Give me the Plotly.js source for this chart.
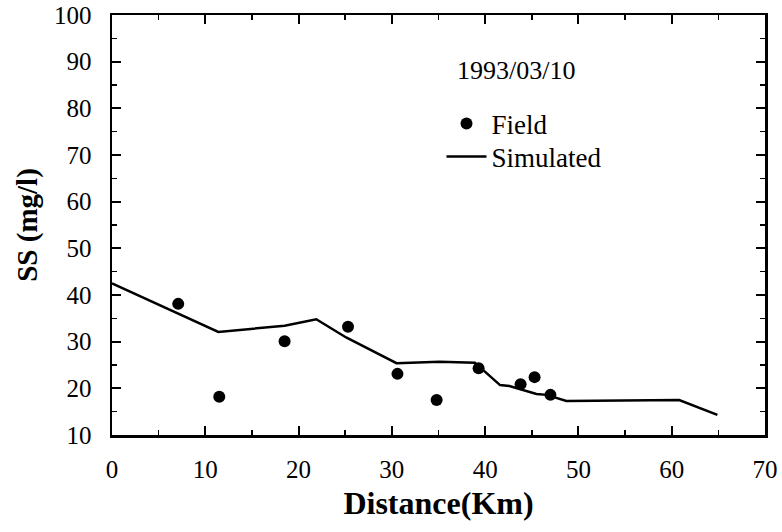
<!DOCTYPE html>
<html>
<head>
<meta charset="utf-8">
<script src="https://cdn.plot.ly/plotly-3.0.1.min.js"></script>
<style>html,body{margin:0;padding:0;background:#fff;}#chart{width:782px;height:532px;}</style>
</head>
<body>
<div id="chart"></div>
<script>
// Field observations
const fieldDistance = [7.1, 11.5, 18.5, 25.3, 30.6, 34.8, 39.3, 43.8, 45.3, 47.0];
const fieldSS       = [38.1, 18.2, 30.1, 33.2, 23.1, 17.5, 24.3, 20.9, 22.4, 18.6];
// Simulated profile
const simDistance = [0, 11.4, 18.5, 21.9, 25.1, 30.5, 35.1, 38.9, 39.4, 41.6, 42.6, 45.5, 46.6, 48.7, 60.8, 64.9];
const simSS       = [42.5, 32.1, 33.4, 34.8, 30.9, 25.4, 25.7, 25.5, 24.6, 20.7, 20.5, 18.8, 18.6, 17.3, 17.5, 14.3];
const xTicks = [0, 10, 20, 30, 40, 50, 60, 70];
const yTicks = [10, 20, 30, 40, 50, 60, 70, 80, 90, 100];
const dateLabel = "1993/03/10";

const serif = "Liberation Serif, Times New Roman, serif";

const traces = [
  {
    x: fieldDistance, y: fieldSS, mode: "markers", name: "Field",
    legend: "legend",
    marker: {color: "#000", size: 12, symbol: "circle"}
  },
  {
    x: simDistance, y: simSS, mode: "lines", name: "Simulated",
    legend: "legend2",
    line: {color: "#000", width: 2.5}
  }
];

const axisCommon = {
  showline: true, linecolor: "#000", linewidth: 2.5, mirror: "allticks",
  ticks: "inside", ticklen: 9, tickwidth: 2, tickcolor: "#000",
  showgrid: false, zeroline: false,
  tickfont: {family: serif, size: 25, color: "#000"},
  minor: {ticks: "inside", ticklen: 5, tickwidth: 1.5, tickcolor: "#000", showgrid: false}
};

const legendCommon = {
  xanchor: "left", yanchor: "middle",
  bgcolor: "rgba(0,0,0,0)", borderwidth: 0, itemwidth: 40,
  font: {family: serif, size: 27, color: "#000"}
};

const layout = {
  width: 782, height: 532,
  margin: {l: 112, r: 17, t: 15, b: 97},
  paper_bgcolor: "#fff", plot_bgcolor: "#fff",
  showlegend: true,
  legend: Object.assign({}, legendCommon, {x: 0.5046, y: 0.7405}),
  legend2: Object.assign({}, legendCommon, {x: 0.5046, y: 0.662}),
  xaxis: Object.assign({}, axisCommon, {
    range: [0, 70], tickvals: xTicks, ticktext: xTicks.map(String),
    ticklabelstandoff: 10,
    minor: Object.assign({}, axisCommon.minor, {dtick: 5}),
    title: {text: "<b>Distance(Km)</b>", font: {family: serif, size: 32, color: "#000"}, standoff: 10}
  }),
  yaxis: Object.assign({}, axisCommon, {
    range: [10, 100], tickvals: yTicks, ticktext: yTicks.map(String),
    ticklabelstandoff: 13,
    minor: Object.assign({}, axisCommon.minor, {dtick: 5}),
    title: {text: "<b>SS (mg/l)</b>", font: {family: serif, size: 29, color: "#000"}, standoff: 8}
  }),
  annotations: [
    {x: 43.3, y: 88.2, xref: "x", yref: "y", text: dateLabel, showarrow: false,
     font: {family: serif, size: 26, color: "#000"}}
  ]
};

Plotly.newPlot("chart", traces, layout, {displayModeBar: false, staticPlot: true});
</script>
</body>
</html>
